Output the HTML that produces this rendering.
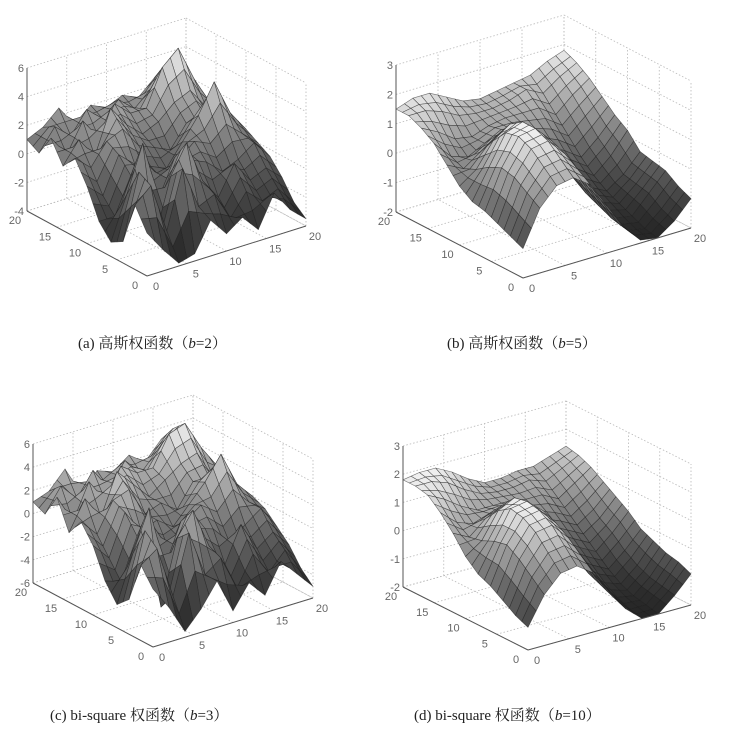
<!DOCTYPE html>
<html><head><meta charset="utf-8"><style>
html,body{margin:0;padding:0;background:#fff;}
svg{display:block;}
.tk{font-family:"Liberation Sans",sans-serif;font-size:11px;fill:#666;}
.cap{font-family:"Liberation Serif","Noto Serif CJK SC",serif;font-size:15px;fill:#222;}
</style></head><body>
<svg id="fig" width="742" height="734" viewBox="0 0 742 734">
<g id="panels"></g>
<text class="cap" x="78" y="348">(a) 高斯权函数（<tspan font-style="italic">b</tspan>=2）</text>
<text class="cap" x="447" y="348">(b) 高斯权函数（<tspan font-style="italic">b</tspan>=5）</text>
<text class="cap" x="50" y="720">(c) bi-square 权函数（<tspan font-style="italic">b</tspan>=3）</text>
<text class="cap" x="414" y="720">(d) bi-square 权函数（<tspan font-style="italic">b</tspan>=10）</text>
</svg>
<script>
const xyTicks=[0,5,10,15,20];
const zTicksA=[-4,-2,0,2,4,6];
const zTicksB=[-2,-1,0,1,2,3];
const zTicksC=[-6,-4,-2,0,2,4,6];
const zTicksD=[-2,-1,0,1,2,3];
const gridX=[0,2,4,6,8,10,12,14,16,18,20];
const gridY=[0,2,4,6,8,10,12,14,16,18,20];
const zA=[
[-1.0,-2.5,-3.8,-3.5,-1.5,-2.8,-2.0,-3.2,-1.0,-2.5,-3.5],
[ 0.5, 1.5,-2.0, 2.0,-1.0,-0.5,-2.5,-1.0,-2.0,-1.5,-2.8],
[-2.5, 2.0,-3.0, 1.0, 3.0, 0.0,-1.5, 0.5,-1.0,-0.5,-1.5],
[-3.0, 0.0, 3.2,-1.0, 1.5, 1.0, 0.5,-0.5, 0.0, 0.8,-0.5],
[-2.0,-2.0, 0.5, 1.0,-0.5, 0.5, 1.5, 1.0, 2.0, 1.0, 0.0],
[ 0.0,-1.0, 1.5, 0.5, 0.0,-0.5, 1.0, 2.5, 4.5, 2.0, 0.5],
[ 1.5, 0.5, 2.0, 2.5, 1.0, 0.5, 0.0, 1.5, 2.0, 1.0, 0.5],
[ 0.5, 2.0, 0.5, 3.5, 2.0, 1.0, 1.5, 2.5, 3.0, 1.5, 1.0],
[ 2.0, 0.5, 2.5, 1.0, 3.0, 2.0, 2.0, 4.5, 5.5, 3.0, 1.0],
[ 0.5, 2.0, 1.0, 2.5, 1.5, 2.5, 1.5, 2.5, 4.0, 2.0, 1.5],
[ 1.0, 1.5, 2.5, 1.0, 2.0, 1.5, 2.0, 1.5, 2.5, 1.0, 1.0]];
const zB=[
[-1.0, 0.2, 0.8, 0.9, 0.5,-0.4,-1.3,-1.9,-2.0,-1.6,-1.0],
[-0.8, 0.5, 1.2, 1.3, 0.8,-0.2,-1.2,-1.8,-1.9,-1.4,-0.8],
[-0.6, 0.8, 1.6, 1.7, 1.1, 0.0,-1.0,-1.6,-1.7,-1.1,-0.5],
[-0.4, 0.9, 1.8, 1.9, 1.3, 0.2,-0.8,-1.3,-1.5,-1.0,-0.4],
[-0.3, 0.7, 1.7, 1.9, 1.4, 0.4,-0.5,-1.0,-1.3,-0.9,-0.3],
[ 0.0, 0.4, 1.2, 1.6, 1.3, 0.5,-0.2,-0.6,-1.0,-0.5, 0.2],
[ 0.5, 0.2, 0.6, 1.0, 1.0, 0.6, 0.1,-0.2,-0.6,-0.1, 0.5],
[ 1.0, 0.4, 0.2, 0.5, 0.8, 0.7, 0.5, 0.3,-0.1, 0.4, 0.9],
[ 1.3, 1.0, 0.6, 0.5, 0.7, 0.8, 0.8, 0.8, 0.4, 0.9, 1.3],
[ 1.5, 1.5, 1.3, 1.0, 0.9, 0.9, 1.0, 1.2, 0.9, 1.3, 1.6],
[ 1.5, 1.7, 1.7, 1.4, 1.1, 1.0, 1.1, 1.2, 1.3, 1.6, 1.8]];
const zC=[
[-1.0,-3.0,-5.5,-4.0,-2.0,-5.0,-3.0,-4.5,-2.0,-3.5,-5.0],
[ 0.5, 1.5,-3.0, 2.0,-2.0,-1.0,-4.0,-1.5,-3.5,-2.0,-4.0],
[-3.0, 2.5,-4.5, 1.0, 3.0,-0.5,-2.5, 0.5,-2.0,-1.0,-2.5],
[-4.0, 0.0, 3.5,-2.0, 1.5, 0.5, 0.0,-1.5,-0.5, 0.5,-1.5],
[-2.5,-3.0, 0.5, 1.0,-1.5, 0.5, 1.5, 0.5, 2.0, 0.5,-0.5],
[ 0.0,-1.5, 2.0, 0.0, 0.5,-0.5, 1.0, 2.5, 4.5, 1.5, 0.0],
[ 1.5, 0.0, 2.5, 3.0, 0.5, 1.0, 0.0, 2.0, 2.0, 0.5, 0.0],
[ 0.0, 2.5, 0.5, 4.0, 2.5, 1.0, 2.0, 3.0, 3.5, 1.0, 1.0],
[ 2.5, 0.0, 3.0, 1.0, 3.5, 2.5, 2.5, 5.0, 5.5, 3.0, 1.0],
[ 0.5, 2.5, 1.0, 3.0, 1.0, 3.0, 1.5, 3.0, 4.5, 2.0, 1.5],
[ 1.0, 1.5, 3.0, 0.5, 2.0, 1.5, 2.5, 1.5, 3.0, 1.0, 1.0]];
const zD=[
[-1.2,-0.2, 0.4, 0.5, 0.1,-0.7,-1.5,-2.0,-2.0,-1.5,-0.9],
[-1.0, 0.2, 0.9, 1.0, 0.5,-0.4,-1.3,-1.9,-1.9,-1.4,-0.7],
[-0.7, 0.6, 1.4, 1.5, 0.9,-0.1,-1.1,-1.7,-1.8,-1.3,-0.6],
[-0.4, 0.9, 1.7, 1.8, 1.2, 0.2,-0.9,-1.4,-1.6,-1.1,-0.4],
[-0.2, 0.8, 1.8, 1.9, 1.4, 0.4,-0.6,-1.0,-1.3,-0.8,-0.2],
[ 0.2, 0.6, 1.5, 1.8, 1.4, 0.6,-0.2,-0.6,-0.9,-0.4, 0.2],
[ 0.8, 0.5, 1.0, 1.3, 1.2, 0.7, 0.1,-0.2,-0.5,-0.1, 0.5],
[ 1.3, 0.8, 0.6, 0.8, 0.9, 0.7, 0.4, 0.2,-0.1, 0.3, 0.8],
[ 1.7, 1.4, 1.0, 0.7, 0.7, 0.7, 0.6, 0.6, 0.3, 0.7, 1.1],
[ 1.8, 1.8, 1.6, 1.2, 0.9, 0.8, 0.8, 0.9, 0.7, 1.0, 1.3],
[ 1.8, 1.9, 1.9, 1.6, 1.2, 0.9, 0.9, 1.0, 1.0, 1.2, 1.4]];

const NS='http://www.w3.org/2000/svg';
function mk(tag,attrs,parent){const e=document.createElementNS(NS,tag);for(const k in attrs)e.setAttribute(k,attrs[k]);parent.appendChild(e);return e;}

function drawPanel(id,Z,zTicks,geo){
  const g=mk('g',{},document.getElementById('panels'));
  
  
  const zmin=zTicks[0], zmax=zTicks[zTicks.length-1];
  const pz=geo.zpx/(zmax-zmin);
  function P(x,y,z){
    return [geo.f[0]+x/20*(geo.r[0]-geo.f[0])+y/20*(geo.l[0]-geo.f[0]),
            geo.f[1]+x/20*(geo.r[1]-geo.f[1])+y/20*(geo.l[1]-geo.f[1])-(z-zmin)*pz];
  }
  function line(a,b,cls,name){
    const e=mk('line',{x1:a[0],y1:a[1],x2:b[0],y2:b[1],stroke:cls==='grid'?'#b8b8b8':'#555','stroke-width':cls==='grid'?0.8:1,'stroke-dasharray':cls==='grid'?'1.5,2':'none'},g);
    
    
  }
  xyTicks.forEach(t=>{
    line(P(t,20,zmin),P(t,20,zmax),'grid','grid-line');
    line(P(20,t,zmin),P(20,t,zmax),'grid','grid-line');
    line(P(t,0,zmin),P(t,20,zmin),'grid','grid-line');
    line(P(0,t,zmin),P(20,t,zmin),'grid','grid-line');
  });
  zTicks.forEach(z=>{
    line(P(0,20,z),P(20,20,z),'grid','grid-line');
    line(P(20,20,z),P(20,0,z),'grid','grid-line');
  });
  let lo=Infinity,hi=-Infinity;
  Z.forEach(r=>r.forEach(v=>{lo=Math.min(lo,v);hi=Math.max(hi,v);}));
  // bilinear subdivision (render only) for a finer mesh look
  const S=2;
  function zAt(i,j,u,v){
    return Z[j][i]*(1-u)*(1-v)+Z[j][i+1]*u*(1-v)+Z[j+1][i+1]*u*v+Z[j+1][i]*(1-u)*v;
  }
  const quads=[];
  for(let j=0;j<gridY.length-1;j++)for(let i=0;i<gridX.length-1;i++)
    for(let b=0;b<S;b++)for(let a=0;a<S;a++)quads.push([i,j,a,b]);
  quads.sort((p,q)=>((q[0]*S+q[2])+(q[1]*S+q[3]))-((p[0]*S+p[2])+(p[1]*S+p[3])));
  quads.forEach(([i,j,a,b])=>{
    const x0=gridX[i],x1=gridX[i+1],y0=gridY[j],y1=gridY[j+1];
    const u0=a/S,u1=(a+1)/S,v0=b/S,v1=(b+1)/S;
    const c4=[[u0,v0],[u1,v0],[u1,v1],[u0,v1]];
    const zs=c4.map(([u,v])=>zAt(i,j,u,v));
    const pts=c4.map(([u,v],k)=>P(x0+(x1-x0)*u,y0+(y1-y0)*v,zs[k]));
    const avg=(zs[0]+zs[1]+zs[2]+zs[3])/4;
    const t=Math.max(0,Math.min(1,(avg-lo)/(hi-lo)));
    const c=Math.round(38+Math.pow(t,1.35)*205);
    const e=mk('polygon',{points:pts.map(p=>p[0].toFixed(1)+','+p[1].toFixed(1)).join(' '),fill:`rgb(${c},${c},${c})`,stroke:'#1a1a1a','stroke-opacity':0.6,'stroke-width':0.6,'stroke-linejoin':'round'},g);
    
    
  });
  line(P(0,20,zmin),P(0,20,zmax),'axis','z-axis');
  line(P(0,0,zmin),P(0,20,zmin),'axis','y-axis');
  line(P(0,0,zmin),P(20,0,zmin),'axis','x-axis');
  zTicks.forEach(z=>{
    const p=P(0,20,z);
    const e=mk('text',{x:p[0]-3,y:p[1]+4,'text-anchor':'end',class:'tk'},g);e.textContent=z;
    
    
  });
  xyTicks.forEach(t=>{
    let p=P(0,t,zmin);
    let e=mk('text',{x:p[0]-12,y:p[1]+13,'text-anchor':'middle',class:'tk'},g);e.textContent=t;
    
    
    p=P(t,0,zmin);
    e=mk('text',{x:p[0]+9,y:p[1]+14,'text-anchor':'middle',class:'tk'},g);e.textContent=t;
    
    
  });
}
drawPanel('a',zA,zTicksA,{f:[147,276],l:[27,211],r:[306,226],zpx:143});
drawPanel('b',zB,zTicksB,{f:[523,278],l:[396,212],r:[691,228],zpx:147});
drawPanel('c',zC,zTicksC,{f:[153,647],l:[33,583],r:[313,598],zpx:139});
drawPanel('d',zD,zTicksD,{f:[528,650],l:[403,587],r:[691,605],zpx:141});
</script>
</body></html>
